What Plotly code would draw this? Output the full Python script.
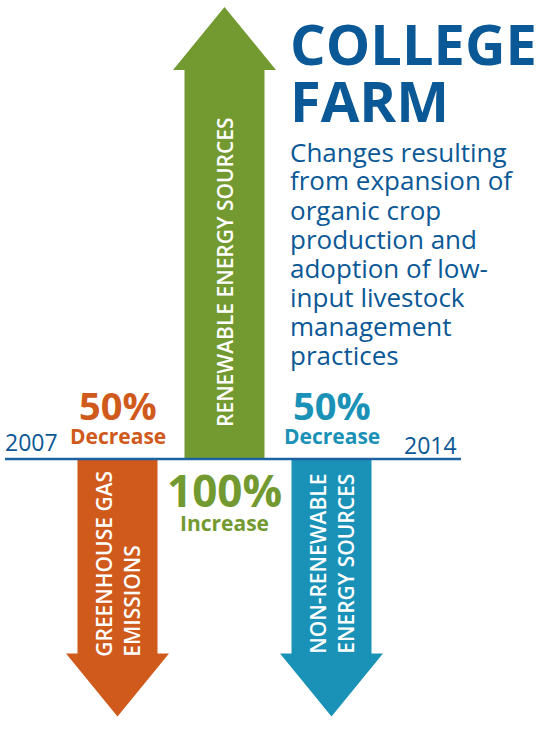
import plotly.graph_objects as go

# ---------------- data ----------------
categories = ["GREENHOUSE GAS<br>EMISSIONS", "RENEWABLE ENERGY SOURCES", "NON-RENEWABLE<br>ENERGY SOURCES"]
change_pct = [-50, 100, -50]
change_words = ["Decrease", "Increase", "Decrease"]
start_year = "2007"
end_year = "2014"
title_lines = ["COLLEGE", "FARM"]
subtitle_lines = ["Changes resulting", "from expansion of", "organic crop", "production and",
                  "adoption of low-", "input livestock", "management", "practices"]

# ---------------- style ----------------
colors = ["#cf5a1c", "#739a31", "#1a92b7"]
DARK = "#0b5896"
LINE = "#1d62a0"
FONT = "Open Sans"
pct_sizes = [38, 44, 38]

W, H = 540, 729
BASE_PX = 459          # pixel row of the baseline
X0_PX, DX_PX = 117.5, 107
PX_PER_PCT = 3.89
HEAD_PX = 63
SHAFT_PX = 80
HEADW_PX = 103

xr = [(0 - X0_PX) / DX_PX, (W - X0_PX) / DX_PX]
yr = [(BASE_PX - H) / PX_PER_PCT, BASE_PX / PX_PER_PCT]

sw = SHAFT_PX / DX_PX / 2
hw = HEADW_PX / DX_PX / 2
hl = HEAD_PX / PX_PER_PCT

fig = go.Figure()

for i, (v, c) in enumerate(zip(change_pct, colors)):
    s = 1 if v > 0 else -1
    xs = [i - sw, i - sw, i - hw, i, i + hw, i + sw, i + sw, i - sw]
    ys = [0, v, v, v + s * hl, v, v, 0, 0]
    fig.add_trace(go.Scatter(x=xs, y=ys, mode="lines", fill="toself", fillcolor=c,
                             line=dict(width=0, color=c), hoverinfo="skip", showlegend=False))

annotations = []

# arrow labels
for i, (v, cat) in enumerate(zip(change_pct, categories)):
    annotations.append(dict(x=i, y=v / 2, xref="x", yref="y", text=cat, showarrow=False,
                            textangle=-90, align="left", yshift=-8,
                            font=dict(family=FONT, size=21, color="white", weight=600)))

# percent labels (opposite side of baseline from the arrow)
for i, (v, w, c, fs) in enumerate(zip(change_pct, change_words, colors, pct_sizes)):
    if v < 0:
        pct_shift, word_shift = 54, 23.5
    else:
        pct_shift, word_shift = -31, -64
    annotations.append(dict(x=i, y=0, xref="x", yref="y", text=f"{abs(v)}%", showarrow=False,
                            yanchor="middle", yshift=pct_shift, borderpad=0,
                            font=dict(family=FONT, size=fs, color=c, weight=700)))
    annotations.append(dict(x=i, y=0, xref="x", yref="y", text=w, showarrow=False,
                            yanchor="middle", yshift=word_shift, borderpad=0,
                            font=dict(family=FONT, size=21, color=c, weight=700)))

# years
annotations.append(dict(x=3 / W, y=0, xref="paper", yref="y", text=start_year, showarrow=False,
                        xanchor="left", yanchor="middle", yshift=17.5,
                        font=dict(family=FONT, size=23, color=DARK)))
annotations.append(dict(x=459 / W, y=0, xref="paper", yref="y", text=end_year, showarrow=False,
                        xanchor="right", yanchor="middle", yshift=14,
                        font=dict(family=FONT, size=23, color=DARK)))

# title
for k, t in enumerate(title_lines):
    cy = 42.5 + 58 * k
    annotations.append(dict(x=289 / W, y=1 - cy / H, xref="paper", yref="paper", text=t,
                            showarrow=False, xanchor="left", yanchor="middle", borderpad=0,
                            font=dict(family=FONT, size=56, color=DARK, weight=700)))

# subtitle
for k, t in enumerate(subtitle_lines):
    cy = 151.5 + 29 * k
    annotations.append(dict(x=289 / W, y=1 - cy / H, xref="paper", yref="paper", text=t,
                            showarrow=False, xanchor="left", yanchor="middle", borderpad=0,
                            font=dict(family=FONT, size=26, color=DARK)))

fig.update_layout(
    width=W, height=H,
    margin=dict(l=0, r=0, t=0, b=0),
    paper_bgcolor="white", plot_bgcolor="white",
    showlegend=False,
    xaxis=dict(range=xr, visible=False, fixedrange=True),
    yaxis=dict(range=yr, visible=False, fixedrange=True),
    annotations=annotations,
    shapes=[dict(type="line", xref="paper", yref="y", x0=5 / W, x1=461 / W, y0=0, y1=0,
                 line=dict(color=LINE, width=2.5), layer="above")],
)

fig.write_html("out.html", config={"displayModeBar": False},
               post_script="document.body.style.margin='0';document.body.style.padding='0';")
